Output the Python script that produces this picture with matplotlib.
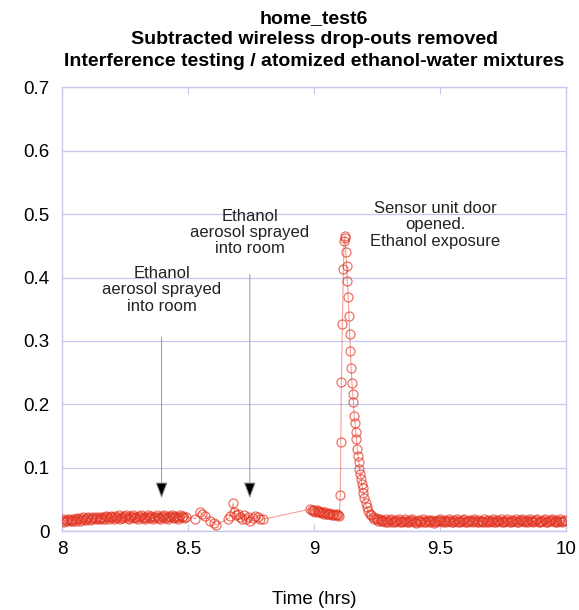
import numpy as np
import matplotlib
matplotlib.use("Agg")
import matplotlib.pyplot as plt

plt.rcParams['font.family'] = ['Liberation Sans', 'DejaVu Sans']

# sensor readings, stored in thousandths
step = 0.005

# 8.00 - 8.49 hrs
seg1_start = 8.0
seg1_vals = [17, 19, 15, 18, 16, 20, 18, 16, 19, 17,
             20, 17, 21, 19, 17, 21, 18, 22, 20, 18,
             21, 22, 18, 21, 19, 23, 21, 19, 23, 20,
             21, 23, 19, 22, 20, 24, 22, 20, 22, 24,
             22, 20, 24, 21, 22, 25, 20, 23, 21, 24,
             22, 25, 21, 20, 24, 22, 25, 23, 21, 23,
             20, 24, 22, 25, 21, 23, 20, 22, 25, 23,
             21, 24, 20, 23, 22, 25, 23, 21, 20, 24,
             22, 25, 21, 23, 20, 24, 22, 25, 23, 21,
             24, 22, 20, 23, 25, 22, 24, 21, 23]

# patchy readings between 8.5 and 8.8 hrs
seg2_t = [8.528, 8.548, 8.555, 8.567, 8.587, 8.603, 8.612, 8.659, 8.667, 8.679,
          8.684, 8.690, 8.698, 8.706, 8.714, 8.722, 8.730, 8.738, 8.746, 8.756,
          8.766, 8.776, 8.786, 8.798]
seg2_vals = [20, 31, 27, 24, 17, 13, 10, 20, 24, 44,
             31, 26, 28, 22, 20, 25, 19, 23, 17, 21,
             24, 22, 20, 19]

# 8.985 - 9.10 hrs
seg3_start = 8.985
seg3_vals = [35, 34, 32, 34, 31, 33, 30, 32, 31, 29, 31, 28,
             30, 28, 27, 29, 27, 26, 28, 26, 25, 27, 25, 24]

# door opened: rise and decay
spike_t = [9.104, 9.106, 9.108, 9.112, 9.116, 9.119, 9.121, 9.123, 9.126, 9.129,
           9.132, 9.135, 9.138, 9.141, 9.144, 9.147, 9.150, 9.153, 9.156, 9.159,
           9.162, 9.165, 9.168, 9.171, 9.174, 9.177, 9.180, 9.183, 9.186, 9.189,
           9.192, 9.195, 9.199, 9.204, 9.209, 9.214, 9.220, 9.226, 9.232, 9.238]
spike_vals = [57, 141, 235, 327, 413, 458, 465, 462, 441, 418,
              394, 369, 339, 311, 284, 257, 234, 217, 204, 182,
              171, 157, 146, 130, 119, 110, 99, 91, 83, 75,
              68, 60, 52, 44, 38, 32, 28, 25, 22, 20]

# 9.245 - 10.0 hrs
seg4_start = 9.245
seg4_vals = [21, 19, 17, 20, 16, 18, 17, 15, 19, 17,
             15, 18, 19, 15, 17, 14, 18, 16, 19, 15,
             17, 14, 16, 19, 17, 15, 14, 18, 16, 19,
             17, 15, 13, 16, 18, 14, 16, 19, 15, 17,
             14, 18, 16, 14, 18, 16, 13, 16, 14, 18,
             16, 19, 17, 14, 16, 18, 14, 16, 19, 17,
             15, 14, 18, 16, 19, 15, 17, 14, 16, 18,
             19, 15, 14, 17, 16, 18, 14, 16, 19, 17,
             15, 18, 14, 16, 17, 15, 19, 14, 16, 18,
             14, 17, 16, 19, 15, 14, 18, 16, 17, 19,
             15, 17, 14, 16, 19, 17, 15, 14, 18, 16,
             17, 19, 15, 14, 18, 16, 19, 17, 14, 16,
             18, 15, 19, 16, 17, 14, 16, 18, 19, 15,
             14, 17, 16, 18, 19, 15, 14, 17, 16, 18,
             19, 17, 15, 18, 14, 16, 19, 17, 15, 17,
             18]

notes = [
    ("Ethanol\naerosol sprayed\ninto room", 8.395, 0.381, 0.306),
    ("Ethanol\naerosol sprayed\ninto room", 8.745, 0.471, 0.405),
    ("Sensor unit door\nopened.\nEthanol exposure", 9.48, 0.483, None),
]

t1 = seg1_start + step * np.arange(len(seg1_vals))
t3 = seg3_start + step * np.arange(len(seg3_vals))
t4 = seg4_start + step * np.arange(len(seg4_vals))
t = np.concatenate([t1, seg2_t, t3, spike_t, t4])
y = np.concatenate([seg1_vals, seg2_vals, seg3_vals, spike_vals, seg4_vals]) / 1000.0

frame = '#c5c9f0'
red = '#e2321f'

fig = plt.figure(figsize=(5.79, 6.10), dpi=100)
ax = fig.add_axes([0.107, 0.129, 0.871, 0.728])

ax.plot(t, y, '-', color=red, lw=0.8, alpha=0.45, zorder=2)
ax.plot(t, y, 'o', ms=6.5, mfc='none', mec=red, mew=0.9, alpha=0.68, zorder=3)

for text, x, ty, top in notes:
    ax.text(x, ty, text, ha='center', va='center', fontsize=12, color='#222222',
            linespacing=1.12)
    if top is not None:
        ax.annotate('', xy=(x, 0.052), xytext=(x, top),
                    arrowprops=dict(arrowstyle='-|>,head_length=1.0,head_width=0.38',
                                    fc='black', ec='#999999', lw=0.7, shrinkA=0, shrinkB=0))

ax.set_xlim(8, 10)
ax.set_ylim(0, 0.7)
ax.set_xticks([8, 8.5, 9, 9.5, 10])
ax.set_xticklabels(['8', '8.5', '9', '9.5', '10'])
ax.set_yticks(np.arange(0, 0.71, 0.1))
ax.set_yticklabels(['0', '0.1', '0.2', '0.3', '0.4', '0.5', '0.6', '0.7'])
ax.grid(axis='y', color=frame, lw=0.9)
ax.tick_params(axis='x', direction='in', length=5, color=frame, top=True,
               labelsize=13.5, pad=7)
ax.tick_params(axis='y', length=0, labelsize=13.5, pad=9)
for s in ax.spines.values():
    s.set_color(frame)
    s.set_linewidth(1.0)

ax.set_xlabel('Time (hrs)', fontsize=13.5, labelpad=24)
ax.set_title('home_test6\nSubtracted wireless drop-outs removed\n'
             'Interference testing / atomized ethanol-water mixtures',
             fontsize=14, fontweight='bold', linespacing=1.35, pad=15.5)

fig.savefig('out.png', dpi=100)
